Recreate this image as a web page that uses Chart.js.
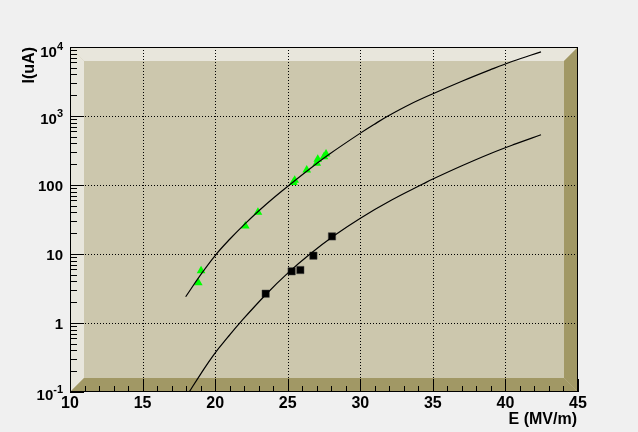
<!DOCTYPE html>
<html>
<head>
<meta charset="utf-8">
<script src="https://cdn.jsdelivr.net/npm/chart.js@4/dist/chart.umd.min.js"></script>
<style>
html, body { margin: 0; padding: 0; background: #f0f0f0; }
</style>
</head>
<body>
<canvas id="c" width="638" height="432"></canvas>
<script>
// measured points (green triangles, upper set)
const triE = [18.84, 19.03, 22.08, 22.95, 25.39, 25.48, 26.31, 27.0, 27.07, 27.5, 27.64];
const triI = [3.84, 5.73, 25.5, 40.2, 109, 117, 165, 206, 237, 257, 281];
// measured points (black squares, lower set)
const sqE = [23.48, 25.27, 25.87, 26.77, 28.05];
const sqI = [2.66, 5.61, 5.86, 9.45, 18.0];
// fitted curves
const fitHiE = [17.97, 18.96, 20.0, 21.02, 22.0, 23.09, 24.1, 25.16, 27.0, 27.91, 29.98, 30.95, 31.91, 33.4, 35.01, 37.0, 38.94, 40.5, 42.45];
const fitHiI = [2.40, 4.86, 9.51, 16.5, 26.7, 43.8, 67.1, 102, 205, 284, 560, 755, 1000, 1469, 2104, 3192, 4667, 6223, 8511];
const fitLoE = [18.15, 19.0, 19.94, 20.86, 21.78, 23.48, 25.04, 26.54, 28.26, 29.98, 32.16, 34.34, 35.0, 37.0, 38.94, 40.7, 42.45];
const fitLoI = [0.0955, 0.182, 0.355, 0.617, 1.047, 2.57, 5.37, 10, 18.8, 32.8, 60.5, 104, 122, 190, 284, 394, 535];
// axis ticks
const xTicks = [10, 15, 20, 25, 30, 35, 40, 45];
const yTicks = [0.1, 1, 10, 100, 1000, 10000];
const yTickBase = ['10', '1', '10', '100', '10', '10'];
const yTickExp = ['-1', '', '', '', '3', '4'];
const xTitle = 'E (MV/m)';
const yTitle = 'I(uA)';

const pts = (xs, ys) => xs.map((x, i) => ({ x: x, y: ys[i] }));
const FONT = '"Liberation Sans", Arial, Helvetica, sans-serif';

// ROOT style 3D frame + grid, drawn under the data
const framePlugin = {
    id: 'frame',
    beforeDraw(chart) {
        const ctx = chart.ctx;
        ctx.save();
        ctx.fillStyle = '#f0f0f0';
        ctx.fillRect(0, 0, chart.width, chart.height);
        ctx.restore();
    },
    beforeDatasetsDraw(chart) {
        const { ctx, chartArea: a, scales: { x, y } } = chart;
        const b = 14; // bevel width
        ctx.save();
        ctx.fillStyle = '#ccc7ad';
        ctx.fillRect(a.left, a.top, a.right - a.left, a.bottom - a.top);
        const poly = (p, c) => {
            ctx.beginPath();
            ctx.moveTo(p[0][0], p[0][1]);
            for (let i = 1; i < p.length; i++) ctx.lineTo(p[i][0], p[i][1]);
            ctx.closePath();
            ctx.fillStyle = c;
            ctx.fill();
        };
        const L = a.left, R = a.right, T = a.top, B = a.bottom;
        poly([[L, T], [R, T], [R - b, T + b], [L + b, T + b]], '#e8e6dc');
        poly([[L, T], [L + b, T + b], [L + b, B - b], [L, B]], '#e8e6dc');
        poly([[R, T], [R, B], [R - b, B - b], [R - b, T + b]], '#a19865');
        poly([[L, B], [L + b, B - b], [R - b, B - b], [R, B]], '#a19865');

        // dotted grid
        ctx.strokeStyle = '#000';
        ctx.lineWidth = 1;
        ctx.setLineDash([1, 2]);
        xTicks.slice(1, -1).forEach(v => {
            const px = Math.round(x.getPixelForValue(v)) + 0.5;
            ctx.beginPath(); ctx.moveTo(px, T); ctx.lineTo(px, B); ctx.stroke();
        });
        yTicks.slice(1, -1).forEach(v => {
            const py = Math.round(y.getPixelForValue(v)) + 0.5;
            ctx.beginPath(); ctx.moveTo(L, py); ctx.lineTo(R, py); ctx.stroke();
        });
        ctx.restore();
    },
    afterDatasetsDraw(chart) {
        const { ctx, chartArea: a, scales: { x, y } } = chart;
        const L = a.left, R = a.right, T = a.top, B = a.bottom;
        ctx.save();
        ctx.strokeStyle = '#000';
        ctx.lineWidth = 1;
        ctx.strokeRect(L + 0.5, T + 0.5, R - L - 1, B - T - 1);

        // x ticks (inward)
        for (let v = xTicks[0]; v <= xTicks[xTicks.length - 1]; v++) {
            const px = Math.round(x.getPixelForValue(v)) + 0.5;
            const len = (v % 5 === 0) ? 13 : 6;
            ctx.beginPath(); ctx.moveTo(px, B); ctx.lineTo(px, B - len); ctx.stroke();
        }
        // y ticks (inward, log)
        for (let d = -1; d <= 3; d++) {
            for (let k = 1; k <= 9; k++) {
                const v = k * Math.pow(10, d);
                const py = Math.round(y.getPixelForValue(v)) + 0.5;
                const len = (k === 1) ? 14 : 7;
                ctx.beginPath(); ctx.moveTo(L, py); ctx.lineTo(L + len, py); ctx.stroke();
            }
        }

        ctx.fillStyle = '#000';
        // x labels
        ctx.font = 'bold 16px ' + FONT;
        ctx.textAlign = 'center';
        ctx.textBaseline = 'alphabetic';
        xTicks.forEach(v => ctx.fillText(String(v), x.getPixelForValue(v), 408));

        // y labels
        yTicks.forEach((v, i) => {
            const py = y.getPixelForValue(v);
            const right = 63;
            ctx.textAlign = 'right';
            if (yTickExp[i]) {
                ctx.font = 'bold 11px ' + FONT;
                const ew = ctx.measureText(yTickExp[i]).width;
                const base = py + (i === yTicks.length - 1 ? 9.5 : 7.5);
                ctx.fillText(yTickExp[i], right, base - 7);
                ctx.font = 'bold 15px ' + FONT;
                ctx.fillText(yTickBase[i], right - ew, base);
            } else {
                ctx.font = 'bold 15px ' + FONT;
                ctx.fillText(yTickBase[i], right, py + 5.5);
            }
        });

        // axis titles
        ctx.font = 'bold 16px ' + FONT;
        ctx.textAlign = 'right';
        ctx.fillText(xTitle, R - 1, 424);
        ctx.translate(34, T);
        ctx.rotate(-Math.PI / 2);
        ctx.textAlign = 'right';
        ctx.fillText(yTitle, 0, 0);
        ctx.restore();
    }
};

new Chart(document.getElementById('c'), {
    type: 'scatter',
    data: {
        datasets: [{
            type: 'line',
            data: pts(fitHiE, fitHiI),
            borderColor: '#000',
            borderWidth: 1.2,
            pointRadius: 0,
            tension: 0.4,
            fill: false
        }, {
            type: 'line',
            data: pts(fitLoE, fitLoI),
            borderColor: '#000',
            borderWidth: 1.2,
            pointRadius: 0,
            tension: 0.4,
            fill: false
        }, {
            data: pts(triE, triI),
            pointStyle: 'triangle',
            pointRadius: 5,
            backgroundColor: '#00ff00',
            borderColor: '#00ff00',
            borderWidth: 0
        }, {
            data: pts(sqE, sqI),
            pointStyle: 'rect',
            pointRadius: 5.2,
            backgroundColor: '#000',
            borderColor: '#444',
            borderWidth: 0.5
        }]
    },
    options: {
        responsive: false,
        animation: false,
        layout: { padding: { left: 70, top: 47, right: 60, bottom: 40 } },
        plugins: {
            legend: { display: false },
            tooltip: { enabled: false }
        },
        scales: {
            x: { type: 'linear', min: 10, max: 45, display: false },
            y: { type: 'logarithmic', min: 0.1, max: 10000, display: false }
        }
    },
    plugins: [framePlugin]
});
</script>
</body>
</html>
